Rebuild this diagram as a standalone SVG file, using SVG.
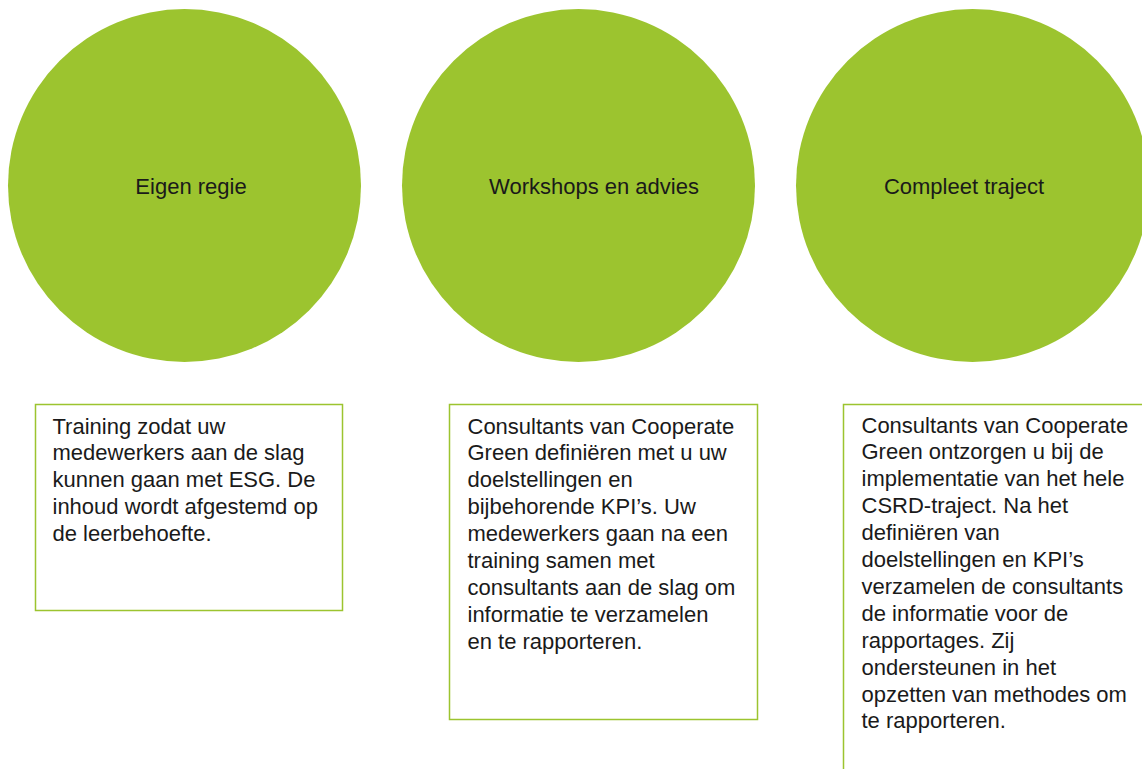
<svg xmlns="http://www.w3.org/2000/svg" width="1142" height="769" viewBox="0 0 1142 769">
<style>
.c{fill:#9cc42f;}
.b{fill:#ffffff;stroke:#9cc42f;stroke-width:1.5;}
.t{font-family:"Liberation Sans",Arial,sans-serif;font-size:22px;fill:#1a1a1a;}
.m{text-anchor:middle;}
</style>
<rect width="1142" height="769" fill="#ffffff"/>
<g id="circle1"><circle class="c" cx="184.5" cy="185.5" r="176.5"/><text class="t m" x="191" y="193.5">Eigen regie</text></g>
<g id="circle2"><circle class="c" cx="578.5" cy="185.5" r="176.5"/><text class="t m" x="594" y="193.5">Workshops en advies</text></g>
<g id="circle3"><circle class="c" cx="972.5" cy="185.5" r="176.5"/><text class="t m" x="964" y="193.5">Compleet traject</text></g>
<g id="box1"><rect class="b" x="35.5" y="404.5" width="307" height="206"/>
<text class="t" x="52.5" y="433.5"><tspan x="52.5">Training zodat uw</tspan><tspan x="52.5" dy="26.9">medewerkers aan de slag</tspan><tspan x="52.5" dy="26.9">kunnen gaan met ESG. De</tspan><tspan x="52.5" dy="26.9">inhoud wordt afgestemd op</tspan><tspan x="52.5" dy="26.9">de leerbehoefte.</tspan></text></g>
<g id="box2"><rect class="b" x="449.5" y="404.5" width="308" height="315"/>
<text class="t" x="467.5" y="433.5"><tspan x="467.5">Consultants van Cooperate</tspan><tspan x="467.5" dy="26.9">Green definiëren met u uw</tspan><tspan x="467.5" dy="26.9">doelstellingen en</tspan><tspan x="467.5" dy="26.9">bijbehorende KPI’s. Uw</tspan><tspan x="467.5" dy="26.9">medewerkers gaan na een</tspan><tspan x="467.5" dy="26.9">training samen met</tspan><tspan x="467.5" dy="26.9">consultants aan de slag om</tspan><tspan x="467.5" dy="26.9">informatie te verzamelen</tspan><tspan x="467.5" dy="26.9">en te rapporteren.</tspan></text></g>
<g id="box3"><rect class="b" x="843.5" y="404.5" width="310" height="380"/>
<text class="t" x="861.5" y="432.5"><tspan x="861.5">Consultants van Cooperate</tspan><tspan x="861.5" dy="26.9">Green ontzorgen u bij de</tspan><tspan x="861.5" dy="26.9">implementatie van het hele</tspan><tspan x="861.5" dy="26.9">CSRD-traject. Na het</tspan><tspan x="861.5" dy="26.9">definiëren van</tspan><tspan x="861.5" dy="26.9">doelstellingen en KPI’s</tspan><tspan x="861.5" dy="26.9">verzamelen de consultants</tspan><tspan x="861.5" dy="26.9">de informatie voor de</tspan><tspan x="861.5" dy="26.9">rapportages. Zij</tspan><tspan x="861.5" dy="26.9">ondersteunen in het</tspan><tspan x="861.5" dy="26.9">opzetten van methodes om</tspan><tspan x="861.5" dy="26.9">te rapporteren.</tspan></text></g>
<g id="connectors"></g>
</svg>
